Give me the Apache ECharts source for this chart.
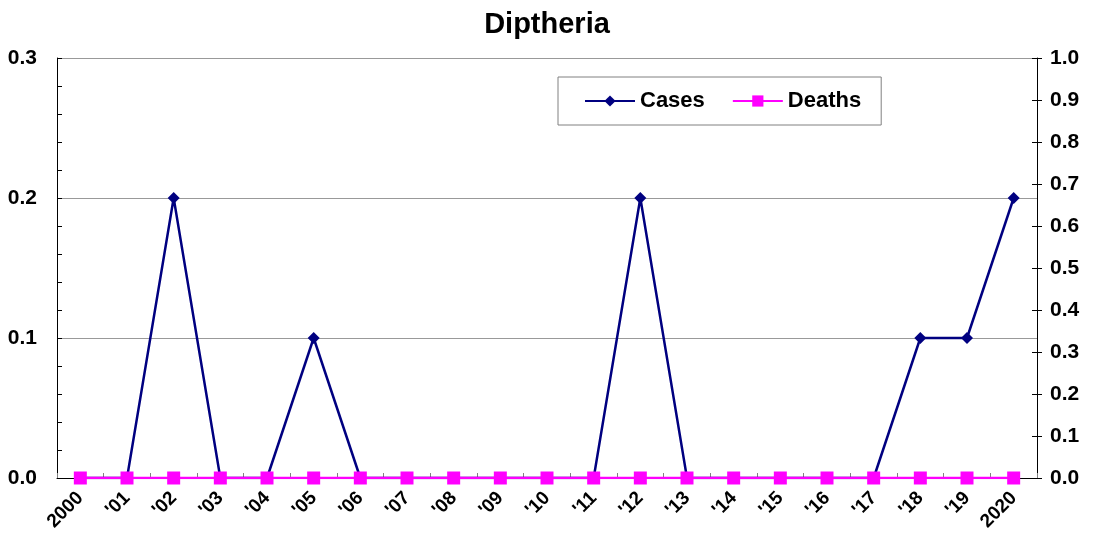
<!DOCTYPE html>
<html><head><meta charset="utf-8">
<script src="https://cdn.jsdelivr.net/npm/echarts@6/dist/echarts.min.js"></script>
<style>html,body{margin:0;padding:0;background:#fff}#c{width:1094px;height:537px}</style>
</head><body><div id="c"></div>
<script>
const categories = ["2000","'01","'02","'03","'04","'05","'06","'07","'08","'09","'10","'11","'12","'13","'14","'15","'16","'17","'18","'19","2020"];
const cases  = [0,0,0.2,0,0,0.1,0,0,0,0,0,0,0.2,0,0,0,0,0,0.1,0.1,0.2];
const deaths = [0,0,0,0,0,0,0,0,0,0,0,0,0,0,0,0,0,0,0,0,0];
const FONT = '"Liberation Sans", Arial, sans-serif';
const chart = echarts.init(document.getElementById('c'));
chart.setOption({
  animation:false,
  title:{text:'Diptheria',left:'center',top:5,textStyle:{fontFamily:FONT,fontSize:29,fontWeight:'bold',color:'#000'}},
  legend:{left:558,top:77,padding:[13,20,13,26],itemGap:27,itemWidth:50,itemHeight:14,
    borderColor:'#808080',borderWidth:1,
    textStyle:{fontFamily:FONT,fontSize:22,fontWeight:'bold',color:'#000'},
    data:['Cases','Deaths']},
  grid:{left:57,right:57,top:58,bottom:59,outerBoundsMode:'none',show:false},
  xAxis:{type:'category',data:categories,boundaryGap:true,
    axisLine:{lineStyle:{color:'#000',width:1}},
    axisTick:{show:true,inside:true,length:5,lineStyle:{color:'#808080'}},
    axisLabel:{rotate:45,fontFamily:FONT,fontSize:19,fontWeight:'bold',color:'#000',margin:17,interval:0}},
  yAxis:[
    {type:'value',min:0,max:0.3,interval:0.1,position:'left',
     axisLine:{show:true,lineStyle:{color:'#000',width:1}},
     axisTick:{show:true,inside:true,length:5,lineStyle:{color:'#000'}},
     minorTick:{show:true,splitNumber:5,length:5,lineStyle:{color:'#000'}},
     splitLine:{show:true,lineStyle:{color:'#999',width:1}},
     axisLabel:{fontFamily:FONT,fontSize:21,fontWeight:'bold',color:'#000',margin:20,formatter:v=>v.toFixed(1)}},
    {type:'value',min:0,max:1,interval:0.1,position:'right',
     axisLine:{show:true,lineStyle:{color:'#000',width:1}},
     axisTick:{show:true,inside:false,length:5,lineStyle:{color:'#000'}},
     splitLine:{show:false},
     axisLabel:{fontFamily:FONT,fontSize:21,fontWeight:'bold',color:'#000',margin:13,formatter:v=>v.toFixed(1)}},
    {type:'value',min:0,max:1,interval:0.1,position:'right',
     axisLine:{show:false},
     axisTick:{show:true,inside:true,length:5,lineStyle:{color:'#000'}},
     splitLine:{show:false},axisLabel:{show:false}}
  ],
  series:[
    {name:'Cases',type:'line',yAxisIndex:0,data:cases,symbol:'diamond',symbolSize:12,
     lineStyle:{color:'#000080',width:2.5},itemStyle:{color:'#000080'},z:2},
    {name:'Deaths',type:'line',yAxisIndex:1,data:deaths,symbol:'rect',symbolSize:13,
     lineStyle:{color:'#FF00FF',width:2.5},itemStyle:{color:'#FF00FF'},z:3}
  ]
});
</script></body></html>
